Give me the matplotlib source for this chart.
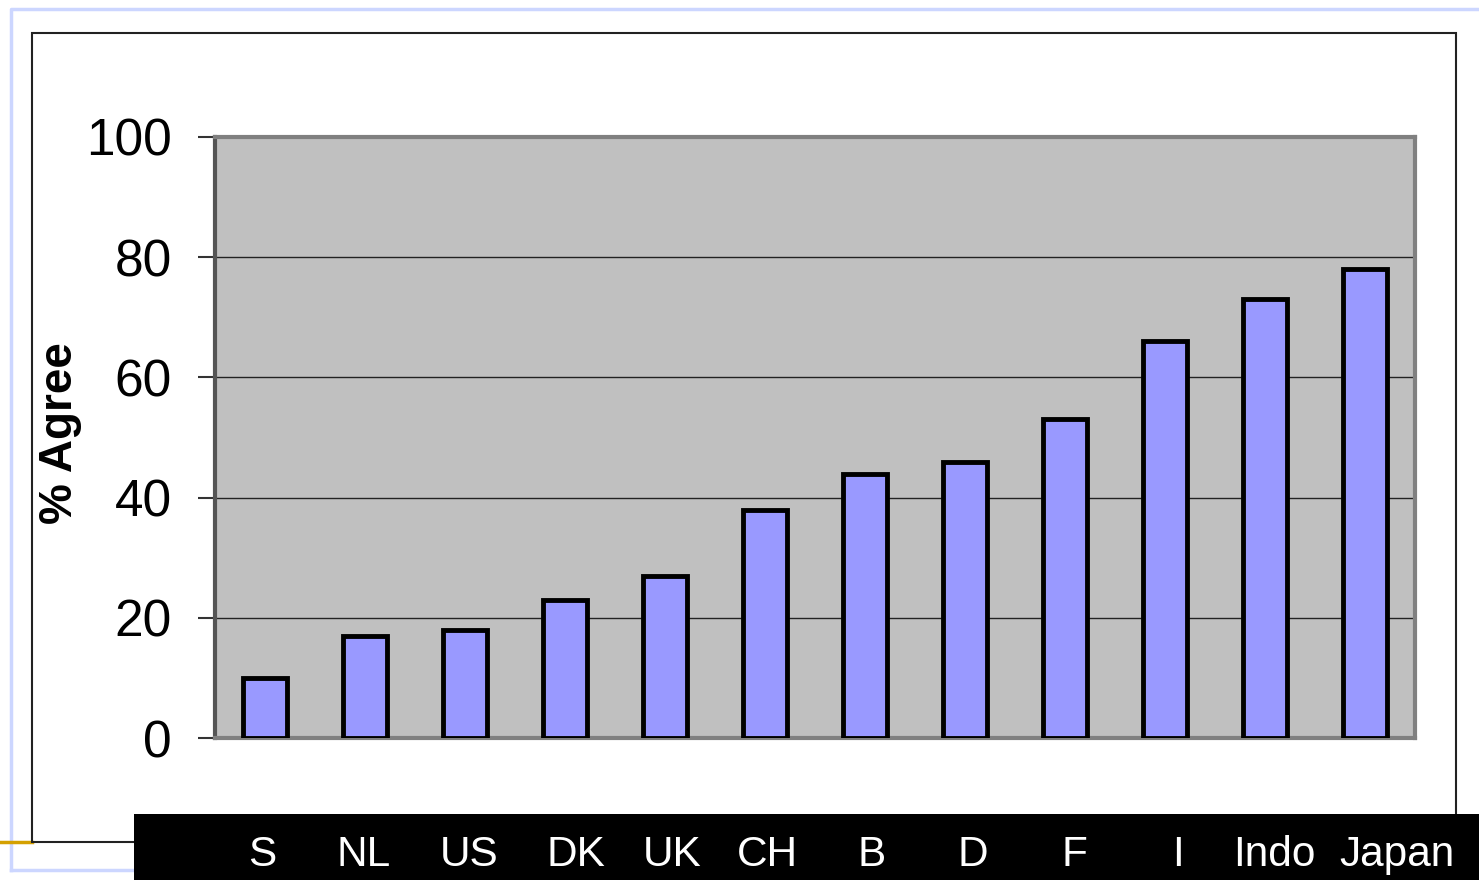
import matplotlib.pyplot as plt
from matplotlib.patches import Rectangle
from matplotlib.lines import Line2D
import matplotlib.transforms as mtransforms

countries = ['S', 'NL', 'US', 'DK', 'UK', 'CH', 'B', 'D', 'F', 'I', 'Indo', 'Japan']
agree = [10, 17, 18, 23, 27, 38, 44, 46, 53, 66, 73, 78]
yticks = [0, 20, 40, 60, 80, 100]
# horizontal nudge (px) of each label in the black band, as laid out on the slide
label_nudge = [-3, -1, 4, 11, 7, 2, 7, 8, 9, 13, 9, 32]

W, H = 1479, 880
plt.rcParams['font.family'] = ['Liberation Sans', 'DejaVu Sans']
fig = plt.figure(figsize=(W / 100, H / 100), dpi=100)


def px_rect(x0, y0, x1, y1, **kw):
    # rectangle in pixel coords (top-left origin) -> figure fraction
    return Rectangle((x0 / W, 1 - y1 / H), (x1 - x0) / W, (y1 - y0) / H,
                     transform=fig.transFigure, **kw)


def px_line(xs, ys, **kw):
    return Line2D([x / W for x in xs], [1 - y / H for y in ys],
                  transform=fig.transFigure, **kw)


# slide decorations
fig.lines.append(px_line([11, 11, 1479], [870, 9, 9], color='#ccd6ff', lw=2.5, zorder=-2))
fig.lines.append(px_line([11, 140], [870, 870], color='#ccd6ff', lw=2.5, zorder=-2))
fig.patches.append(px_rect(32, 33, 1456, 842, fill=False, edgecolor='#222222', lw=1.5, zorder=-2))
fig.lines.append(px_line([0, 32], [842, 842], color='#d4a000', lw=2.5, zorder=-2))
fig.patches.append(px_rect(134, 814, 1479, 880, facecolor='black', edgecolor='none', zorder=-1))

ax = fig.add_axes([215 / W, (H - 738) / H, 1200 / W, 601 / H])
ax.set_facecolor('#c0c0c0')
x = range(len(countries))
ax.bar(x, agree, width=0.44, color='#9999ff', edgecolor='black', linewidth=3.5, zorder=3)
ax.set_xlim(-0.5, len(countries) - 0.5)
ax.set_ylim(0, 100)
ax.set_yticks(yticks)
ax.set_yticklabels([str(v) for v in yticks], fontsize=37)
ax.tick_params(axis='y', length=12, width=1.5, color='#333333', pad=19)
ax.grid(axis='y', color='#222222', lw=1, zorder=1)
ax.set_axisbelow(True)

ax.set_xticks(list(x))
ax.set_xticklabels(countries, fontsize=30.5, color='white')
ax.tick_params(axis='x', length=0, pad=70)
for lbl, dx in zip(ax.get_xticklabels(), label_nudge):
    offset = mtransforms.ScaledTranslation(dx / 100, 0, fig.dpi_scale_trans)
    lbl.set_transform(lbl.get_transform() + offset)

for s in ['top', 'right', 'bottom']:
    ax.spines[s].set_color('#808080')
    ax.spines[s].set_linewidth(3)
ax.spines['left'].set_color('#555555')
ax.spines['left'].set_linewidth(3)

fig.text(60 / W, 1 - 433 / H, '% Agree', rotation=90, fontsize=33, fontweight='bold',
         ha='center', va='center')

fig.savefig('out.png', dpi=100)
